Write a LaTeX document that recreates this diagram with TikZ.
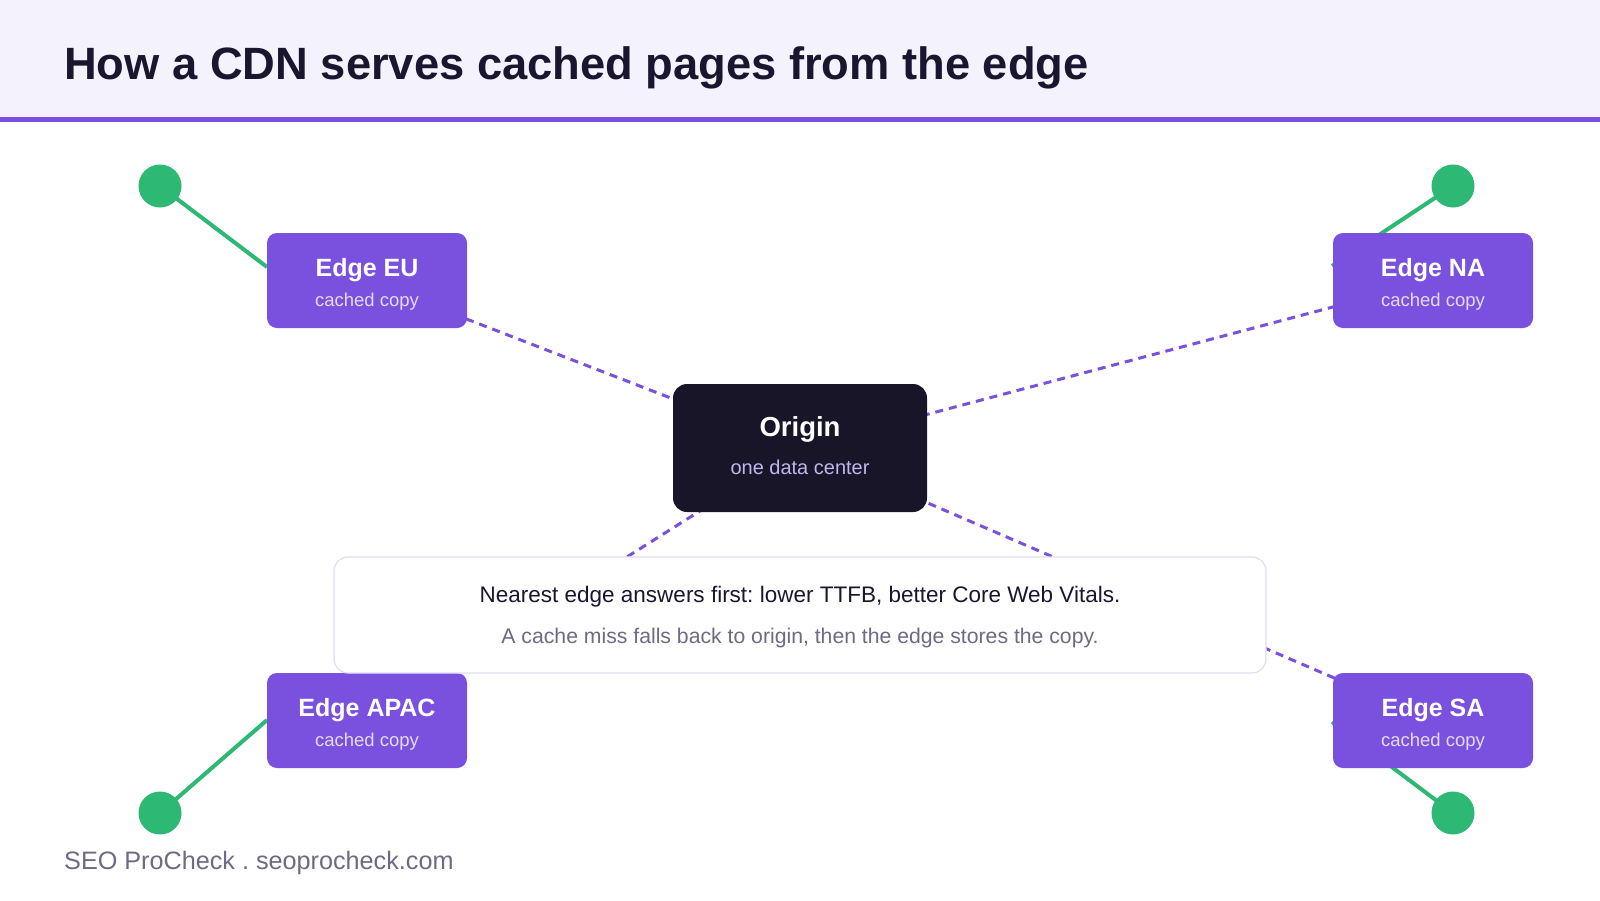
\documentclass[tikz,border=0pt]{standalone}
\usepackage{fontspec}
\setmainfont{Liberation Sans}
\usetikzlibrary{backgrounds}
\frenchspacing
\definecolor{headbg}{HTML}{F4F2FD}
\definecolor{brand}{HTML}{7A50DE}
\definecolor{edgesub}{HTML}{E4DAFB}
\definecolor{origbg}{HTML}{181528}
\definecolor{origsub}{HTML}{C3B5EC}
\definecolor{grn}{HTML}{2DB873}
\definecolor{noteline}{HTML}{E2DEF2}
\definecolor{ink}{HTML}{1A1630}
\definecolor{muted}{HTML}{6E6A85}
\tikzset{
  edgebox/.style={fill=brand, rounded corners=10pt, minimum width=200pt, minimum height=95pt, inner sep=0pt},
  edgetitle/.style={anchor=base, text=white, font=\fontsize{25}{30}\selectfont\bfseries, inner sep=0pt},
  edgesubt/.style={anchor=base, text=edgesub, font=\fontsize{18.5}{22}\selectfont, inner sep=0pt},
  dot/.style={circle, fill=grn, minimum size=43pt, inner sep=0pt},
  glink/.style={draw=grn, line width=4pt},
  dlink/.style={draw=brand, line width=3pt, dash pattern=on 8pt off 6pt},
}
\begin{document}
\frenchspacing
\begin{tikzpicture}[x=1pt,y=-1pt]
\useasboundingbox (0,0) rectangle (1600,900);
% header
\fill[headbg] (0,0) rectangle (1600,117);
\fill[brand] (0,117) rectangle (1600,122);
\node[anchor=base west, inner sep=0pt, text=ink, font=\fontsize{45.3}{54}\selectfont\bfseries] (title) at (64,79) {How a CDN serves cached pages from the edge};
% origin
\node[fill=origbg, rounded corners=14pt, minimum width=254pt, minimum height=128pt, inner sep=0pt] (origin) at (800,448) {};
\node[anchor=base, text=white, font=\fontsize{27.5}{33}\selectfont\bfseries, inner sep=0pt] (originT) at ([yshift=-53pt]origin.north) {Origin};
\node[anchor=base, text=origsub, font=\fontsize{20}{24}\selectfont, inner sep=0pt] (originS) at ([yshift=-91pt]origin.north) {one data center};
% edges
\node[edgebox] (eu) at (367,280.5) {};
\node[edgebox] (na) at (1433,280.5) {};
\node[edgebox] (apac) at (367,720.5) {};
\node[edgebox] (sa) at (1433,720.5) {};
\foreach \n/\t in {eu/Edge EU, na/Edge NA, apac/Edge APAC, sa/Edge SA}{
  \node[edgetitle] (\n T) at ([yshift=-44pt]\n.north) {\t};
  \node[edgesubt] (\n S) at ([yshift=-74pt]\n.north) {cached copy};
}
% dots
\node[dot] (deu) at (160,186) {};
\node[dot] (dna) at (1453,186) {};
\node[dot] (dapac) at (160,813) {};
\node[dot] (dsa) at (1453,813) {};
\coordinate (geu) at (267,267);
\coordinate (gna) at (1332,266);
\coordinate (gapac) at (267,720);
\coordinate (gsa) at (1332,722);
% note
\node[fill=white, draw=noteline, line width=1.2pt, rounded corners=14pt, minimum width=932pt, minimum height=116pt, inner sep=0pt] (note) at (800,615) {};
\node[anchor=base, text=ink, font=\fontsize{22.5}{27}\selectfont, inner sep=0pt] (noteA) at (800,602) {Nearest edge answers first: lower TTFB, better Core Web Vitals.};
\node[anchor=base, text=muted, font=\fontsize{21.2}{25}\selectfont, inner sep=0pt] (noteB) at (800,643) {A cache miss falls back to origin, then the edge stores the copy.};
% footer
\node[anchor=base west, text=muted, font=\fontsize{25.2}{30}\selectfont, inner sep=0pt] (foot) at (64,869) {SEO ProCheck . seoprocheck.com};
% links
\begin{scope}[on background layer]
  \fill[white] (0,0) rectangle (1600,900);
  \draw[dlink] (origin.center) -- (eu.center);
  \draw[dlink] (origin.center) -- (na.center);
  \draw[dlink] (origin.center) -- (apac.center);
  \draw[dlink] (origin.center) -- (sa.center);
  \draw[glink] (deu.center) -- (geu);
  \draw[glink] (dna.center) -- (gna);
  \draw[glink] (dapac.center) -- (gapac);
  \draw[glink] (dsa.center) -- (gsa);
\end{scope}
\end{tikzpicture}
\end{document}
